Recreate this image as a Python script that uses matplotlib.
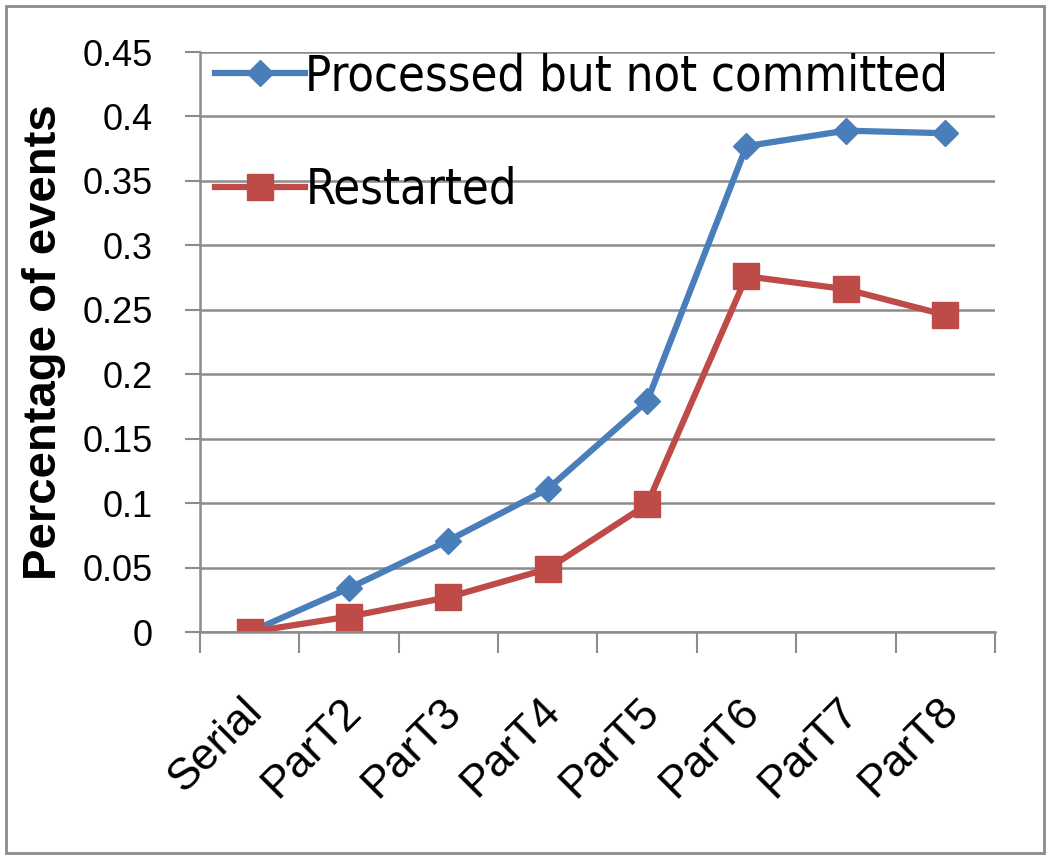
import matplotlib.pyplot as plt
import numpy as np
from matplotlib.patches import Rectangle
from matplotlib.transforms import ScaledTranslation

# data
categories = ['Serial', 'ParT2', 'ParT3', 'ParT4', 'ParT5', 'ParT6', 'ParT7', 'ParT8']
processed = [0.0, 0.034, 0.071, 0.111, 0.179, 0.377, 0.389, 0.387]
restarted = [0.0, 0.012, 0.027, 0.049, 0.099, 0.276, 0.266, 0.246]
yticks = [0, 0.05, 0.1, 0.15, 0.2, 0.25, 0.3, 0.35, 0.4, 0.45]
ytick_labels = ['0', '0.05', '0.1', '0.15', '0.2', '0.25', '0.3', '0.35', '0.4', '0.45']

fig = plt.figure(figsize=(10.5, 8.6), dpi=100)
ax = fig.add_axes([0.1905, 0.2651, 0.757, 0.6744])

x = np.arange(len(categories))
ax.plot(x, processed, color='#4A7EBB', lw=4.5, marker='D', ms=13,
        label='Processed but not committed')
ax.plot(x, restarted, color='#BE4B48', lw=4.5, marker='s', ms=19,
        label='Restarted')

ax.set_xlim(-0.5, len(categories) - 0.5)
ax.set_ylim(0, 0.45)
ax.set_yticks(yticks)
ax.set_yticklabels(ytick_labels, fontsize=26, family='Liberation Sans')
ax.yaxis.grid(True, color='#8C8C8C', lw=1.8)
ax.set_axisbelow(True)
ax.tick_params(axis='y', length=11, width=1.5, color='#8C8C8C', pad=23)

ax.set_xticks(x)
ax.set_xticklabels(categories, rotation=45, ha='right', rotation_mode='anchor',
                   fontsize=32, family='Liberation Sans')
ax.set_xticks(np.arange(-0.5, len(categories)), minor=True)
ax.tick_params(axis='x', which='major', length=0, pad=42)
ax.tick_params(axis='x', which='minor', length=15, width=1.5, color='#8C8C8C')
# nudge the rotated labels a little left, as in the original
shift = ScaledTranslation(-6 / 72, 0, fig.dpi_scale_trans)
for lab in ax.get_xticklabels():
    lab.set_transform(lab.get_transform() + shift)

for s in ['top', 'right']:
    ax.spines[s].set_visible(False)
for s in ['left', 'bottom']:
    ax.spines[s].set_color('#8C8C8C')
    ax.spines[s].set_linewidth(1.8)

ax.set_ylabel('Percentage of events', fontsize=34, fontweight='bold',
              family='Liberation Sans')
ax.yaxis.set_label_coords(-0.168, 0.5)

leg = ax.legend(loc='upper left', frameon=False,
                prop={'family': 'DejaVu Sans', 'stretch': 'condensed', 'size': 35},
                handlelength=1.85, handletextpad=0.0, labelspacing=1.35,
                borderaxespad=0.0, bbox_to_anchor=(-0.005, 1.033))

fig.patches.append(Rectangle((0.006, 0.008), 0.988, 0.985, transform=fig.transFigure,
                             fill=False, edgecolor='#8C8C8C', lw=2))

fig.savefig('out.png', dpi=100)
